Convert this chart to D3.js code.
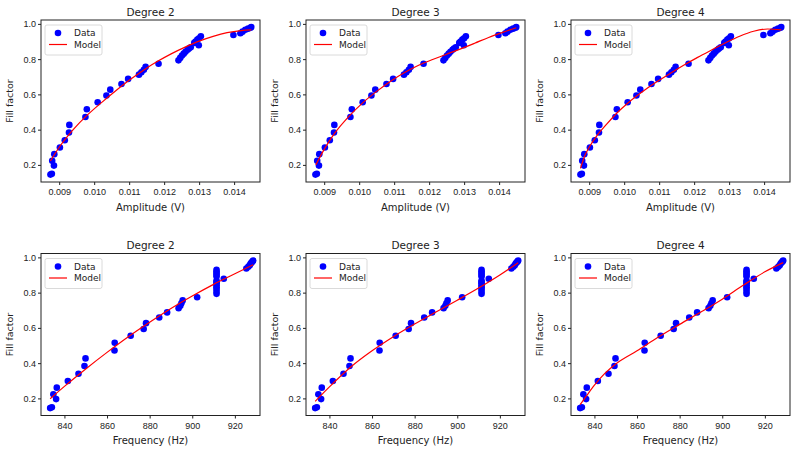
<!DOCTYPE html>
<html>
<head>
<meta charset="utf-8">
<script src="https://cdn.jsdelivr.net/npm/d3@7"></script>
<style>
  html, body { margin: 0; padding: 0; background: #fff; }
  svg { display: block; font-family: "DejaVu Sans", sans-serif; }
  .axis path, .axis line { stroke: #222; }
  .axis text { fill: #222; font-size: 9px; }
</style>
</head>
<body>
<svg id="chart" width="796" height="454"></svg>
<script>
// ---------- data ----------
const fillFactor = [0.145,0.150,0.196,0.223,0.261,0.299,0.340,0.384,0.427,0.472,0.516,0.555,0.594,0.627,0.659,0.688,0.712,0.725,0.740,0.756,0.774,
  0.793,0.807,0.820,0.831,0.842,0.853,0.860,0.867,0.879,0.892,0.900,0.911,0.918,0.930,0.937,0.947,0.956,0.967,0.973,0.978,0.982];
const amplitude = [0.00875,0.00879,0.00885,0.00880,0.00886,0.00902,0.00916,0.00928,0.00929,0.00975,0.00979,0.01010,0.01035,0.01046,0.01078,0.01097,0.01128,0.01135,0.01142,0.01147,0.01184,
  0.01241,0.01246,0.01251,0.01256,0.01261,0.01267,0.01271,0.01276,0.01299,0.01286,0.01290,0.01295,0.01300,0.01305,0.01398,0.01418,0.01424,0.01432,0.01440,0.01447,0.01449];
const frequency = [833.3,834.1,836.1,834.8,836.4,841.6,846.6,849.4,849.9,863.5,863.6,871.1,877.2,878.3,884.5,888.2,893.6,894.4,894.9,895.5,902.3,
  911.4,911.4,911.4,911.4,911.4,911.4,911.4,911.4,914.8,911.4,911.4,911.4,911.4,911.4,925.4,926.3,927.0,927.5,928.0,928.4,928.6];

// model curves (x, fill factor)
const ampDeg2 = [[0.00875,0.222],[0.0090,0.300],[0.0094,0.400],[0.0098,0.482],[0.0102,0.552],[0.0106,0.618],[0.0110,0.680],[0.0114,0.736],[0.0118,0.786],[0.0122,0.830],[0.0126,0.868],[0.0130,0.902],[0.0134,0.929],[0.0138,0.950],[0.0142,0.962],[0.01449,0.966]];
const ampDeg3 = [[0.00876,0.200],[0.0090,0.288],[0.0093,0.380],[0.0097,0.474],[0.0101,0.552],[0.0105,0.617],[0.0109,0.675],[0.0113,0.724],[0.0117,0.765],[0.0121,0.798],[0.0125,0.828],[0.0129,0.858],[0.0133,0.890],[0.0137,0.923],[0.0141,0.952],[0.01449,0.978]];
const ampDeg4 = [[0.00875,0.180],[0.00888,0.255],[0.0090,0.300],[0.0092,0.360],[0.0095,0.431],[0.0098,0.496],[0.0101,0.550],[0.0105,0.612],[0.0109,0.667],[0.0113,0.717],[0.0117,0.765],[0.0121,0.810],[0.0125,0.852],[0.0129,0.893],[0.0133,0.930],[0.0137,0.958],[0.0141,0.971],[0.01449,0.966]];
const freqDeg2 = [[833.3,0.198],[840,0.268],[850,0.367],[860,0.461],[870,0.550],[880,0.632],[890,0.710],[900,0.781],[910,0.847],[920,0.907],[928.6,0.958]];
const freqDeg3 = [[833.3,0.183],[840,0.265],[850,0.378],[860,0.470],[870,0.550],[880,0.622],[890,0.690],[900,0.757],[910,0.826],[920,0.900],[928.6,0.970]];
const freqDeg4 = [[833.3,0.165],[836,0.210],[840,0.275],[845,0.343],[850,0.395],[860,0.470],[870,0.548],[880,0.620],[890,0.690],[900,0.763],[910,0.843],[920,0.918],[928.6,0.970]];

const degrees = [2, 3, 4];
const ampTicks = [0.009, 0.010, 0.011, 0.012, 0.013, 0.014];
const freqTicks = [840, 860, 880, 900, 920];
const ffTicks = [0.2, 0.4, 0.6, 0.8, 1.0];
const ampDomain = [0.00848, 0.01474];
const freqDomain = [829.0, 931.8];
const ffDomain = [0.103, 1.022];

// ---------- layout ----------
const svg = d3.select("#chart");
const lefts = [41, 306, 571];
const tops = [20, 253.5];
const W = 219, H = 162;

const rows = [
  { xs: amplitude, models: [ampDeg2, ampDeg3, ampDeg4], domain: ampDomain, ticks: ampTicks, fmt: d3.format(".3f"), label: "Amplitude (V)" },
  { xs: frequency, models: [freqDeg2, freqDeg3, freqDeg4], domain: freqDomain, ticks: freqTicks, fmt: d3.format("d"), label: "Frequency (Hz)" }
];

rows.forEach((row, ri) => {
  degrees.forEach((deg, ci) => {
    const g = svg.append("g").attr("transform", `translate(${lefts[ci]},${tops[ri]})`);
    const x = d3.scaleLinear().domain(row.domain).range([0, W]);
    const y = d3.scaleLinear().domain(ffDomain).range([H, 0]);

    // axes
    g.append("g").attr("class", "axis").attr("transform", `translate(0,${H})`)
      .call(d3.axisBottom(x).tickValues(row.ticks).tickFormat(row.fmt).tickSize(3).tickPadding(4).tickSizeOuter(0))
      .call(s => s.select(".domain").remove());
    g.append("g").attr("class", "axis")
      .call(d3.axisLeft(y).tickValues(ffTicks).tickFormat(d3.format(".1f")).tickSize(3).tickPadding(2).tickSizeOuter(0))
      .call(s => s.select(".domain").remove());

    // data points
    g.append("g").selectAll("circle").data(row.xs.map((v, i) => [v, fillFactor[i]]))
      .join("circle")
      .attr("cx", d => x(d[0])).attr("cy", d => y(d[1])).attr("r", 3.3)
      .attr("fill", "#0000ff");

    // model line
    const line = d3.line().x(d => x(d[0])).y(d => y(d[1])).curve(d3.curveMonotoneX);
    g.append("path").datum(row.models[ci]).attr("d", line)
      .attr("fill", "none").attr("stroke", "#ff0000").attr("stroke-width", 1.2);

    // frame
    g.append("rect").attr("x", 0).attr("y", 0).attr("width", W).attr("height", H)
      .attr("fill", "none").attr("stroke", "#222").attr("stroke-width", 1);

    // title & labels
    g.append("text").attr("x", W / 2).attr("y", -4.5).attr("text-anchor", "middle")
      .attr("font-size", 10.5).attr("fill", "#222").text("Degree " + deg);
    g.append("text").attr("x", W / 2).attr("y", H + 28.5).attr("text-anchor", "middle")
      .attr("font-size", 10).attr("fill", "#222").text(row.label);
    g.append("text").attr("transform", `translate(${-28},${H / 2}) rotate(-90)`).attr("text-anchor", "middle")
      .attr("font-size", 9.5).attr("fill", "#222").text("Fill factor");

    // legend
    const lg = g.append("g").attr("transform", "translate(4,5)");
    lg.append("rect").attr("width", 57).attr("height", 30).attr("rx", 2)
      .attr("fill", "#fff").attr("fill-opacity", 0.8).attr("stroke", "#d0d0d0").attr("stroke-width", 0.8);
    lg.append("circle").attr("cx", 13).attr("cy", 8).attr("r", 3.3).attr("fill", "#0000ff");
    lg.append("text").attr("x", 29).attr("y", 11).attr("font-size", 9).attr("fill", "#222").text("Data");
    lg.append("line").attr("x1", 4).attr("x2", 22).attr("y1", 19.5).attr("y2", 19.5)
      .attr("stroke", "#ff0000").attr("stroke-width", 1.2);
    lg.append("text").attr("x", 29).attr("y", 22.5).attr("font-size", 9).attr("fill", "#222").text("Model");
  });
});
</script>
</body>
</html>
